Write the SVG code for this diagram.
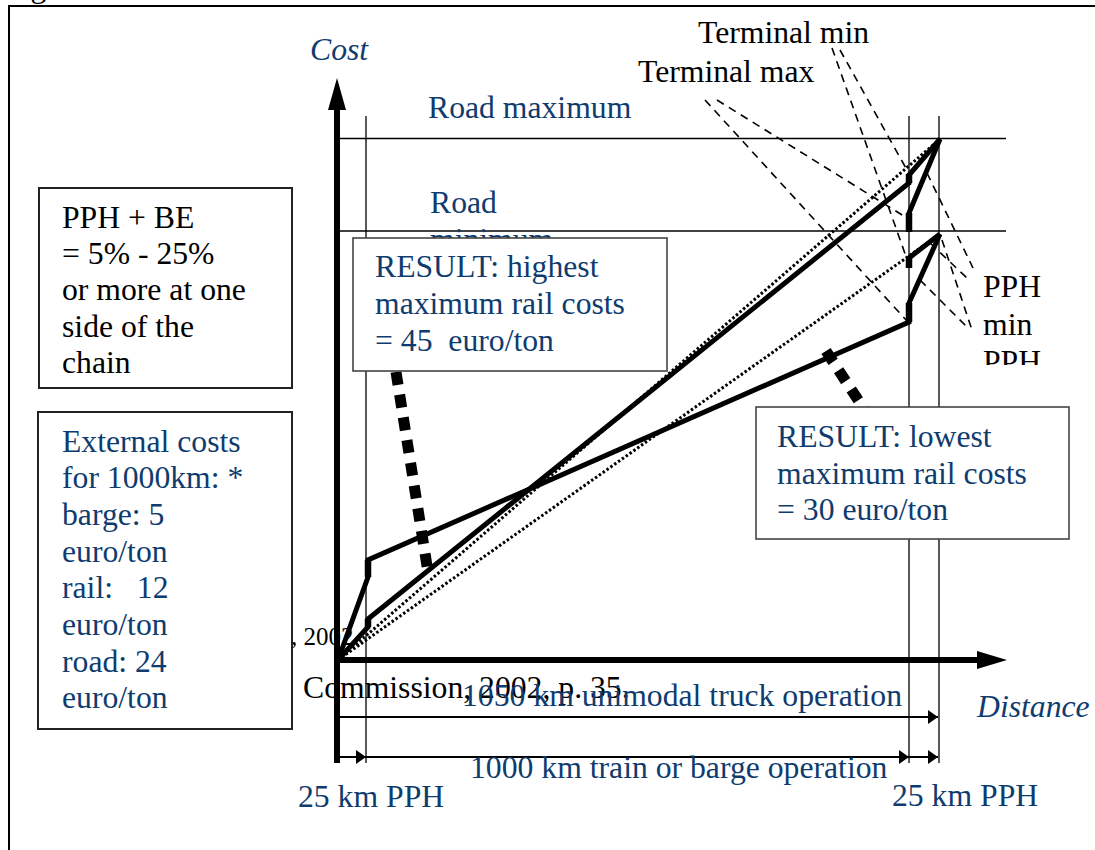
<svg xmlns="http://www.w3.org/2000/svg" width="1095" height="850" viewBox="0 0 1095 850">
  <style>
    text { font-family: "Liberation Serif", "Times New Roman", serif; font-size: 31.7px; }
    .blue { fill: #0f3c6e; }
    .black { fill: #000; }
    .ital { font-style: italic; }
    .thin { stroke: #000; stroke-width: 1.3; fill: none; }
    .axis { stroke: #000; stroke-width: 6; fill: none; }
    .cost { stroke: #000; stroke-width: 5; fill: none; stroke-linejoin: miter; }
    .jump { stroke: #000; stroke-width: 6.5; fill: none; }
    .dot { stroke: #000; stroke-width: 3; fill: none; stroke-dasharray: 2.5 2.2; }
    .lead { stroke: #000; stroke-width: 1.6; fill: none; stroke-dasharray: 8 6; }
    .fat { stroke: #000; stroke-width: 11; fill: none; stroke-dasharray: 13 10; }
    .dim { stroke: #000; stroke-width: 2; fill: none; }
    .box { fill: #fff; stroke: #222; stroke-width: 2; }
    .rbox { fill: #fff; stroke: #444; stroke-width: 1.6; }
  </style>
  <defs>
    <marker id="tip" viewBox="0 0 10 14" refX="10" refY="7" markerWidth="10" markerHeight="14" markerUnits="userSpaceOnUse" orient="auto">
      <path d="M0,0 L10,7 L0,14 Z" fill="#000"/>
    </marker>
    <clipPath id="pphClip">
      <rect x="960" y="250" width="135" height="115"/>
    </clipPath>
  </defs>

  <rect width="1095" height="850" fill="#fff"/>

  <!-- frame (caption above is cut off) -->
  <text class="black" x="4" y="-3">Figure</text>
  <path d="M9,850 V6 H1095" stroke="#000" stroke-width="2" fill="none"/>

  <!-- reference grid: road price levels and PPH boundaries -->
  <g id="grid">
    <line class="thin" x1="340" y1="138.5" x2="1006" y2="138.5"/>
    <line class="thin" x1="340" y1="231" x2="1006" y2="231"/>
    <line class="thin" x1="366" y1="116" x2="366" y2="763"/>
    <line class="thin" x1="909" y1="116" x2="909" y2="763"/>
    <line class="thin" x1="939" y1="116" x2="939" y2="763"/>
  </g>

  <g id="road-labels">
    <text class="blue" x="428" y="118">Road maximum</text>
    <text class="blue" x="430" y="213">Road</text>
    <text class="blue" x="430" y="250">minimum</text>
  </g>

  <!-- axes -->
  <g id="axes">
    <line class="axis" x1="337" y1="106" x2="337" y2="763"/>
    <polygon points="337,78 328,110 346,110" fill="#000"/>
    <line class="axis" x1="334" y1="660" x2="980" y2="660"/>
    <polygon points="1007,660 977,651 977,669" fill="#000"/>
    <text class="blue ital" x="310" y="60">Cost</text>
    <text class="blue ital" x="977" y="717">Distance</text>
  </g>

  <!-- cost curves -->
  <g id="curves">
    <line class="dot" x1="338" y1="660" x2="940" y2="139"/>
    <line class="dot" x1="338" y1="660" x2="940" y2="234"/>
    <polyline class="cost" points="338,660 368,627 368,619 909,183 909,175 940,139"/>
    <polyline class="cost" points="940,139 909,213 909,232"/>
    <polyline class="cost" points="338,660 368,577 368,560 909,322 909,303 940,234"/>
    <polyline class="cost" points="940,234 909,258 909,268"/>
    <line class="jump" x1="368" y1="627" x2="368" y2="619"/>
    <line class="jump" x1="368" y1="577" x2="368" y2="560"/>
    <line class="jump" x1="909" y1="183" x2="909" y2="174"/>
    <line class="jump" x1="909" y1="213" x2="909" y2="232"/>
    <line class="jump" x1="909" y1="258" x2="909" y2="268"/>
    <line class="jump" x1="909" y1="303" x2="909" y2="322"/>
  </g>

  <!-- distance dimensions -->
  <g id="dimensions">
    <line class="dim" x1="337" y1="717" x2="938" y2="717" marker-end="url(#tip)"/>
    <line class="dim" x1="337" y1="757" x2="366" y2="757" marker-end="url(#tip)"/>
    <line class="dim" x1="366" y1="757" x2="909" y2="757" marker-end="url(#tip)"/>
    <line class="dim" x1="909" y1="757" x2="938" y2="757" marker-end="url(#tip)"/>
  </g>

  <g id="source-note">
    <text class="black" x="303" y="698">Commission, 2002, p. 35.</text>
  </g>

  <g id="label-truck">
    <text class="blue" x="462" y="706">1050 km unimodal truck operation</text>
  </g>
  <g id="label-train">
    <text class="blue" x="470" y="778">1000 km train or barge operation</text>
  </g>
  <g id="label-pph-left">
    <text class="blue" x="298" y="807">25 km PPH</text>
  </g>
  <g id="label-pph-right">
    <text class="blue" x="892" y="806">25 km PPH</text>
  </g>

  <!-- leader lines and pointers -->
  <g id="connectors">
    <line class="lead" x1="832" y1="48" x2="908" y2="262"/>
    <line class="lead" x1="840" y1="50" x2="907" y2="170"/>
    <line class="lead" x1="717" y1="100" x2="907" y2="218"/>
    <line class="lead" x1="705" y1="100" x2="907" y2="321"/>
    <line class="lead" x1="927" y1="173" x2="973" y2="268"/>
    <line class="lead" x1="930" y1="243" x2="967" y2="278"/>
    <line class="lead" x1="942" y1="240" x2="973" y2="333"/>
    <line class="lead" x1="920" y1="280" x2="967" y2="327"/>
    <line class="fat" x1="396" y1="372" x2="428" y2="572"/>
    <line class="fat" x1="826" y1="351" x2="864" y2="409"/>
  </g>

  <g id="terminal-min">
    <text class="black" x="698" y="43">Terminal min</text>
  </g>
  <g id="terminal-max">
    <text class="black" x="638" y="82">Terminal max</text>
  </g>
  <g id="pph-labels" clip-path="url(#pphClip)">
    <text class="black" x="983" y="297">PPH</text>
    <text class="black" x="983" y="335">min</text>
    <text class="black" x="983" y="372">PPH</text>
  </g>

  <g id="result-highest">
    <rect class="rbox" x="353" y="238" width="314" height="133"/>
    <text class="blue" x="375" y="277">RESULT: highest</text>
    <text class="blue" x="375" y="314">maximum rail costs</text>
    <text class="blue" x="375" y="351" xml:space="preserve">= 45  euro/ton</text>
  </g>

  <g id="result-lowest">
    <rect class="rbox" x="756" y="407" width="313" height="132"/>
    <text class="blue" x="777" y="447">RESULT: lowest</text>
    <text class="blue" x="777" y="484">maximum rail costs</text>
    <text class="blue" x="777" y="520">= 30 euro/ton</text>
  </g>

  <g id="pph-be">
    <rect class="box" x="39" y="188" width="253" height="200"/>
    <text class="black" x="62" y="228">PPH + BE</text>
    <text class="black" x="62" y="264">= 5% - 25%</text>
    <text class="black" x="62" y="300">or more at one</text>
    <text class="black" x="62" y="337">side of the</text>
    <text class="black" x="62" y="373">chain</text>
  </g>

  <g id="external-costs">
    <rect class="box" x="38" y="412" width="254" height="317"/>
    <text class="blue" x="62" y="452">External costs</text>
    <text class="blue" x="62" y="488">for 1000km: *</text>
    <text class="blue" x="62" y="525">barge: 5</text>
    <text class="blue" x="62" y="562">euro/ton</text>
    <text class="blue" x="62" y="598" xml:space="preserve">rail:   12</text>
    <text class="blue" x="62" y="635">euro/ton</text>
    <text class="blue" x="62" y="672">road: 24</text>
    <text class="blue" x="62" y="708">euro/ton</text>
  </g>

  <g id="year-note">
    <text class="black" x="291" y="645" style="font-size:25px">, 2002</text>
  </g>
</svg>
